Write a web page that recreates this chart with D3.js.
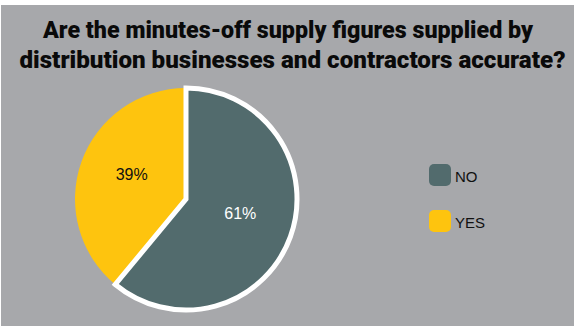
<!DOCTYPE html>
<html>
<head>
<meta charset="utf-8">
<script src="https://cdn.jsdelivr.net/npm/d3@7"></script>
<style>
  html, body { margin: 0; padding: 0; background: #ffffff; }
  svg { display: block; }
</style>
</head>
<body>
<script>
// Survey answers
const categories = ["NO", "YES"];
const values = [61, 39];
const labels = ["61%", "39%"];
const colors = ["#526b6d", "#fec40e"];
const labelColors = ["#ffffff", "#111111"];
const titleLines = [
  "Are the minutes-off supply figures supplied by",
  "distribution businesses and contractors accurate?"
];

const W = 576, H = 326;
const svg = d3.select("body").append("svg")
  .attr("width", W).attr("height", H);

// grey panel with a thin white frame
svg.append("rect")
  .attr("x", 1).attr("y", 5)
  .attr("width", W - 3).attr("height", H - 5)
  .attr("fill", "#a7a8ab");

// title: a heavy face, squeezed a little horizontally to the panel width
const titleWidths = [490, 546];
const titleX = [288, 292.5];
const title = svg.append("g").attr("transform", "scale(1,1.08)");
title.selectAll("text")
  .data(titleLines)
  .join("text")
  .attr("x", (d, i) => titleX[i])
  .attr("y", (d, i) => (38 + i * 30) / 1.08)
  .attr("text-anchor", "middle")
  .attr("font-family", "Roboto, 'Liberation Sans', sans-serif")
  .attr("font-weight", 900)
  .attr("font-size", 23)
  .attr("fill", "#0a0a0a")
  .attr("textLength", (d, i) => titleWidths[i])
  .attr("lengthAdjust", "spacingAndGlyphs")
  .text(d => d);

// pie
const cx = 186, cy = 199, r = 111;
const pie = d3.pie().sort(null).value(d => d.v);
const arcs = pie(categories.map((c, i) => ({ c, v: values[i], i })));
const arc = d3.arc().innerRadius(0).outerRadius(r);
const labelArc = d3.arc().innerRadius(r * 0.52).outerRadius(r * 0.52);

const g = svg.append("g").attr("transform", `translate(${cx},${cy})`);

// draw the smaller slice first so the outlined slice sits on top
g.selectAll("path")
  .data(arcs.slice().reverse())
  .join("path")
  .attr("d", arc)
  .attr("fill", d => colors[d.data.i])
  .attr("stroke", d => d.data.i === 0 ? "#ffffff" : "none")
  .attr("stroke-width", 5)
  .attr("stroke-linejoin", "miter");

g.selectAll("text")
  .data(arcs)
  .join("text")
  .attr("transform", d => {
    const [x, y] = labelArc.centroid(d);
    return `translate(${x},${y - 5})`;
  })
  .attr("text-anchor", "middle")
  .attr("dominant-baseline", "central")
  .attr("font-family", "'Liberation Sans', Arial, sans-serif")
  .attr("font-size", 16)
  .attr("fill", d => labelColors[d.data.i])
  .text(d => labels[d.data.i]);

// legend
const legend = svg.append("g").attr("transform", "translate(429,164)");
const item = legend.selectAll("g")
  .data(categories)
  .join("g")
  .attr("transform", (d, i) => `translate(0,${i * 46})`);
item.append("rect")
  .attr("width", 22).attr("height", 22)
  .attr("rx", 5).attr("ry", 5)
  .attr("fill", (d, i) => colors[i]);
item.append("text")
  .attr("x", 26).attr("y", 12)
  .attr("dominant-baseline", "central")
  .attr("font-family", "'Liberation Sans', Arial, sans-serif")
  .attr("font-size", 15)
  .attr("fill", "#111111")
  .text(d => d);
</script>
</body>
</html>
